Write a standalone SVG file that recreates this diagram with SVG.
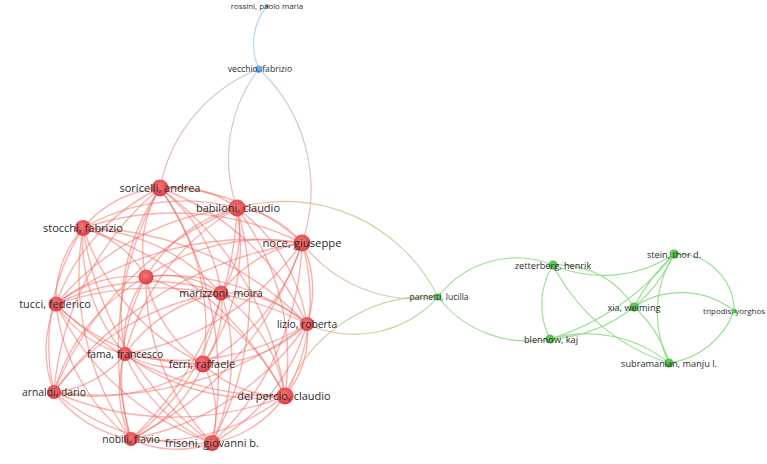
<svg xmlns="http://www.w3.org/2000/svg" width="767" height="464" viewBox="0 0 767 464">
<style>
.r{fill:none;stroke:#f4665e;stroke-opacity:0.5;stroke-width:1.4}
.g{fill:none;stroke:#8edb8a;stroke-opacity:0.9;stroke-width:1.2}
.x{fill:none;stroke-width:1.2;stroke-opacity:0.8}
text{font-family:"Open Sans","Liberation Sans",sans-serif;fill:#2b2b2b;text-anchor:middle}
.lg{font-size:11px}
.md{font-size:10.3px}
.gs{font-size:9.2px}
.xs{font-size:8.6px}
.xxs{font-size:7.9px}
.rn{fill:url(#rg)}
.gn{fill:url(#gg)}
.bn{fill:url(#bg)}
</style>
<defs>
<radialGradient id="rg" cx="0.45" cy="0.4" r="0.6"><stop offset="0" stop-color="#f47676"/><stop offset="1" stop-color="#dc3f46"/></radialGradient>
<radialGradient id="gg" cx="0.45" cy="0.4" r="0.6"><stop offset="0" stop-color="#6fd66a"/><stop offset="1" stop-color="#3fb43d"/></radialGradient>
<radialGradient id="bg" cx="0.45" cy="0.4" r="0.6"><stop offset="0" stop-color="#7cbbee"/><stop offset="1" stop-color="#4a98d8"/></radialGradient>
<linearGradient id="gv1" gradientUnits="userSpaceOnUse" x1="259" y1="69" x2="160" y2="188"><stop offset="0" stop-color="#a8c8ea"/><stop offset="1" stop-color="#f0a2a2"/></linearGradient>
<linearGradient id="gv2" gradientUnits="userSpaceOnUse" x1="259" y1="69" x2="237" y2="208"><stop offset="0" stop-color="#a8c8ea"/><stop offset="1" stop-color="#f0a2a2"/></linearGradient>
<linearGradient id="gv3" gradientUnits="userSpaceOnUse" x1="259" y1="69" x2="302" y2="243"><stop offset="0" stop-color="#a8c8ea"/><stop offset="1" stop-color="#f0a2a2"/></linearGradient>
<linearGradient id="gp1" gradientUnits="userSpaceOnUse" x1="237" y1="208" x2="438" y2="297"><stop offset="0" stop-color="#f2a48e"/><stop offset="1" stop-color="#9edc96"/></linearGradient>
<linearGradient id="gp2" gradientUnits="userSpaceOnUse" x1="302" y1="243" x2="438" y2="297"><stop offset="0" stop-color="#f2a48e"/><stop offset="1" stop-color="#9edc96"/></linearGradient>
<linearGradient id="gp3" gradientUnits="userSpaceOnUse" x1="307" y1="324" x2="438" y2="297"><stop offset="0" stop-color="#f2a48e"/><stop offset="1" stop-color="#9edc96"/></linearGradient>
<linearGradient id="gp4" gradientUnits="userSpaceOnUse" x1="285" y1="396" x2="438" y2="297"><stop offset="0" stop-color="#f2a48e"/><stop offset="1" stop-color="#9edc96"/></linearGradient>
</defs>
<rect width="767" height="464" fill="#ffffff"/>
<g id="connectors">
<path class="r" d="M237 208 A110 110 0 0 1 221 293"/>
<path class="r" d="M237 208 A96 96 0 0 1 302 243"/>
<path class="r" d="M237 208 A177 177 0 0 1 307 324"/>
<path class="r" d="M237 208 A251 251 0 0 1 285 396"/>
<path class="r" d="M237 208 A208 208 0 0 1 203 364"/>
<path class="r" d="M237 208 A308 308 0 0 1 212 443"/>
<path class="r" d="M237 208 A332 332 0 0 1 131 439"/>
<path class="r" d="M125 354 A239 239 0 0 1 237 208"/>
<path class="r" d="M54 392 A336 336 0 0 1 237 208"/>
<path class="r" d="M56 304 A267 267 0 0 1 237 208"/>
<path class="r" d="M83 228 A202 202 0 0 1 237 208"/>
<path class="r" d="M146 277 A148 148 0 0 1 237 208"/>
<path class="r" d="M160 188 A103 103 0 0 1 237 208"/>
<path class="r" d="M221 293 A123 123 0 0 1 302 243"/>
<path class="r" d="M221 293 A120 120 0 0 1 307 324"/>
<path class="r" d="M221 293 A157 157 0 0 1 285 396"/>
<path class="r" d="M221 293 A96 96 0 0 1 203 364"/>
<path class="r" d="M221 293 A198 198 0 0 1 212 443"/>
<path class="r" d="M221 293 A225 225 0 0 1 131 439"/>
<path class="r" d="M125 354 A148 148 0 0 1 221 293"/>
<path class="r" d="M54 392 A252 252 0 0 1 221 293"/>
<path class="r" d="M56 304 A215 215 0 0 1 221 293"/>
<path class="r" d="M83 228 A198 198 0 0 1 221 293"/>
<path class="r" d="M146 277 A99 99 0 0 1 221 293"/>
<path class="r" d="M160 188 A156 156 0 0 1 221 293"/>
<path class="r" d="M302 243 A107 107 0 0 1 307 324"/>
<path class="r" d="M302 243 A199 199 0 0 1 285 396"/>
<path class="r" d="M302 243 A203 203 0 0 1 203 364"/>
<path class="r" d="M302 243 A286 286 0 0 1 212 443"/>
<path class="r" d="M302 243 A339 339 0 0 1 131 439"/>
<path class="r" d="M302 243 A272 272 0 0 1 125 354"/>
<path class="r" d="M54 392 A375 375 0 0 1 302 243"/>
<path class="r" d="M56 304 A330 330 0 0 1 302 243"/>
<path class="r" d="M83 228 A286 286 0 0 1 302 243"/>
<path class="r" d="M146 277 A208 208 0 0 1 302 243"/>
<path class="r" d="M160 188 A198 198 0 0 1 302 243"/>
<path class="r" d="M307 324 A95 95 0 0 1 285 396"/>
<path class="r" d="M307 324 A144 144 0 0 1 203 364"/>
<path class="r" d="M307 324 A198 198 0 0 1 212 443"/>
<path class="r" d="M307 324 A273 273 0 0 1 131 439"/>
<path class="r" d="M307 324 A239 239 0 0 1 125 354"/>
<path class="r" d="M307 324 A339 339 0 0 1 54 392"/>
<path class="r" d="M56 304 A328 328 0 0 1 307 324"/>
<path class="r" d="M83 228 A317 317 0 0 1 307 324"/>
<path class="r" d="M146 277 A218 218 0 0 1 307 324"/>
<path class="r" d="M160 188 A260 260 0 0 1 307 324"/>
<path class="r" d="M285 396 A114 114 0 0 1 203 364"/>
<path class="r" d="M285 396 A114 114 0 0 1 212 443"/>
<path class="r" d="M285 396 A208 208 0 0 1 131 439"/>
<path class="r" d="M285 396 A215 215 0 0 1 125 354"/>
<path class="r" d="M285 396 A300 300 0 0 1 54 392"/>
<path class="r" d="M285 396 A320 320 0 0 1 56 304"/>
<path class="r" d="M83 228 A341 341 0 0 1 285 396"/>
<path class="r" d="M146 277 A237 237 0 0 1 285 396"/>
<path class="r" d="M160 188 A313 313 0 0 1 285 396"/>
<path class="r" d="M203 364 A105 105 0 0 1 212 443"/>
<path class="r" d="M203 364 A136 136 0 0 1 131 439"/>
<path class="r" d="M203 364 A103 103 0 0 1 125 354"/>
<path class="r" d="M203 364 A197 197 0 0 1 54 392"/>
<path class="r" d="M203 364 A206 206 0 0 1 56 304"/>
<path class="r" d="M203 364 A236 236 0 0 1 83 228"/>
<path class="r" d="M203 364 A135 135 0 0 1 146 277"/>
<path class="r" d="M160 188 A234 234 0 0 1 203 364"/>
<path class="r" d="M212 443 A105 105 0 0 1 131 439"/>
<path class="r" d="M212 443 A163 163 0 0 1 125 354"/>
<path class="r" d="M212 443 A217 217 0 0 1 54 392"/>
<path class="r" d="M212 443 A272 272 0 0 1 56 304"/>
<path class="r" d="M212 443 A328 328 0 0 1 83 228"/>
<path class="r" d="M212 443 A234 234 0 0 1 146 277"/>
<path class="r" d="M160 188 A338 338 0 0 1 212 443"/>
<path class="r" d="M131 439 A112 112 0 0 1 125 354"/>
<path class="r" d="M131 439 A118 118 0 0 1 54 392"/>
<path class="r" d="M131 439 A200 200 0 0 1 56 304"/>
<path class="r" d="M131 439 A282 282 0 0 1 83 228"/>
<path class="r" d="M131 439 A213 213 0 0 1 146 277"/>
<path class="r" d="M131 439 A329 329 0 0 1 160 188"/>
<path class="r" d="M125 354 A104 104 0 0 1 54 392"/>
<path class="r" d="M125 354 A110 110 0 0 1 56 304"/>
<path class="r" d="M125 354 A173 173 0 0 1 83 228"/>
<path class="r" d="M125 354 A104 104 0 0 1 146 277"/>
<path class="r" d="M125 354 A220 220 0 0 1 160 188"/>
<path class="r" d="M54 392 A112 112 0 0 1 56 304"/>
<path class="r" d="M54 392 A216 216 0 0 1 83 228"/>
<path class="r" d="M54 392 A190 190 0 0 1 146 277"/>
<path class="r" d="M54 392 A296 296 0 0 1 160 188"/>
<path class="r" d="M56 304 A107 107 0 0 1 83 228"/>
<path class="r" d="M56 304 A122 122 0 0 1 146 277"/>
<path class="r" d="M56 304 A203 203 0 0 1 160 188"/>
<path class="r" d="M83 228 A104 104 0 0 1 146 277"/>
<path class="r" d="M83 228 A112 112 0 0 1 160 188"/>
<path class="r" d="M146 277 A116 116 0 0 1 160 188"/>
<path class="x" stroke="#a8c8ea" stroke-opacity="1" d="M259 69 A60 60 0 0 1 267 6"/>
<path class="x" stroke="url(#gv1)" d="M259 69 A160 160 0 0 0 160 188"/>
<path class="x" stroke="url(#gv2)" d="M259 69 A147 147 0 0 0 237 208"/>
<path class="x" stroke="url(#gv3)" d="M259 69 A165 165 0 0 1 302 243"/>
<path class="x" stroke="url(#gp1)" d="M237 208 A171 171 0 0 1 438 297"/>
<path class="x" stroke="url(#gp2)" d="M302 243 A143 143 0 0 0 438 297"/>
<path class="x" stroke="url(#gp3)" d="M307 324 A113 113 0 0 0 438 297"/>
<path class="x" stroke="url(#gp4)" d="M285 396 A153 153 0 0 1 438 297"/>
<path class="g" d="M438 297 A98 98 0 0 1 553 265"/>
<path class="g" d="M438 297 A114 114 0 0 0 550 339"/>
<path class="g" stroke-width="2.4" d="M553 265 A75 75 0 0 0 550 339"/>
<path class="g" d="M553 265 A127 127 0 0 0 674 254"/>
<path class="g" d="M553 265 A88 88 0 0 1 634 307"/>
<path class="g" d="M553 265 A197 197 0 0 0 669 363"/>
<path class="g" d="M550 339 A150 150 0 0 0 634 307"/>
<path class="g" d="M550 339 A250 250 0 0 0 674 254"/>
<path class="g" d="M550 339 A130 130 0 0 1 669 363"/>
<path class="g" d="M674 254 A150 150 0 0 1 634 307"/>
<path class="g" d="M674 254 A200 200 0 0 0 634 307"/>
<path class="g" d="M674 254 A113 113 0 0 0 669 363"/>
<path class="g" d="M674 254 A57 57 0 0 1 734 311"/>
<path class="g" d="M634 307 A85 85 0 0 1 734 311"/>
<path class="g" d="M634 307 A120 120 0 0 1 669 363"/>
<path class="g" d="M669 363 A81 81 0 0 0 734 311"/>
</g>
<g id="n-rossini"><circle class="bn" cx="267" cy="6" r="2"/><text class="xxs" x="267" y="9">rossini, paolo maria</text></g>
<g id="n-vecchio"><circle class="bn" cx="259" cy="69" r="3.5"/><text class="xs" x="260" y="72">vecchio, fabrizio</text></g>
<g id="n-unnamed"><circle class="rn" cx="146" cy="277" r="7.5"/></g>
<g id="n-soricelli"><circle class="rn" cx="160" cy="188" r="8.5"/><text class="lg" x="160" y="192">soricelli, andrea</text></g>
<g id="n-babiloni"><circle class="rn" cx="237" cy="208" r="8.5"/><text class="lg" x="238" y="212">babiloni, claudio</text></g>
<g id="n-stocchi"><circle class="rn" cx="83" cy="228" r="8"/><text class="lg" x="83" y="232">stocchi, fabrizio</text></g>
<g id="n-noce"><circle class="rn" cx="302" cy="243" r="8.5"/><text class="lg" style="font-size:11.3px" x="302" y="247">noce, giuseppe</text></g>
<g id="n-marizzoni"><circle class="rn" cx="221" cy="293" r="7.5"/><text class="lg" style="font-size:10.7px" x="221" y="297">marizzoni, moira</text></g>
<g id="n-tucci"><circle class="rn" cx="56" cy="304" r="7.5"/><text class="lg" x="55" y="308">tucci, federico</text></g>
<g id="n-lizio"><circle class="rn" cx="307" cy="324" r="7"/><text class="md" x="307" y="328">lizio, roberta</text></g>
<g id="n-fama"><circle class="rn" cx="125" cy="354" r="7"/><text class="md" x="125" y="358">fama, francesco</text></g>
<g id="n-ferri"><circle class="rn" cx="203" cy="364" r="8.5"/><text class="lg" x="202" y="368">ferri, raffaele</text></g>
<g id="n-arnaldi"><circle class="rn" cx="54" cy="392" r="7"/><text class="md" x="54" y="395.5">arnaldi, dario</text></g>
<g id="n-delpercio"><circle class="rn" cx="285" cy="396" r="8.5"/><text class="lg" x="284" y="400">del percio, claudio</text></g>
<g id="n-nobili"><circle class="rn" cx="131" cy="439" r="7"/><text class="md" x="131" y="443">nobili, flavio</text></g>
<g id="n-frisoni"><circle class="rn" cx="212" cy="443" r="8"/><text class="lg" x="212" y="447">frisoni, giovanni b.</text></g>
<g id="n-parnetti"><circle class="gn" cx="438" cy="297" r="3.5"/><text class="xs" x="439" y="300">parnetti, lucilla</text></g>
<g id="n-zetterberg"><circle class="gn" cx="553" cy="265" r="4.5"/><text class="gs" x="553" y="268.5">zetterberg, henrik</text></g>
<g id="n-blennow"><circle class="gn" cx="550" cy="339" r="4.5"/><text class="gs" x="551" y="342.5">blennow, kaj</text></g>
<g id="n-stein"><circle class="gn" cx="674" cy="254" r="4.5"/><text class="gs" x="674" y="257.5">stein, thor d.</text></g>
<g id="n-xia"><circle class="gn" cx="634" cy="307" r="4.5"/><text class="gs" x="634" y="310.5">xia, weiming</text></g>
<g id="n-tripodis"><circle class="gn" cx="734" cy="311" r="2.5"/><text class="xxs" x="734" y="314">tripodis, yorghos</text></g>
<g id="n-subramanian"><circle class="gn" cx="669" cy="363" r="4.5"/><text class="gs" x="669" y="366.5">subramanian, manju l.</text></g>
</svg>
